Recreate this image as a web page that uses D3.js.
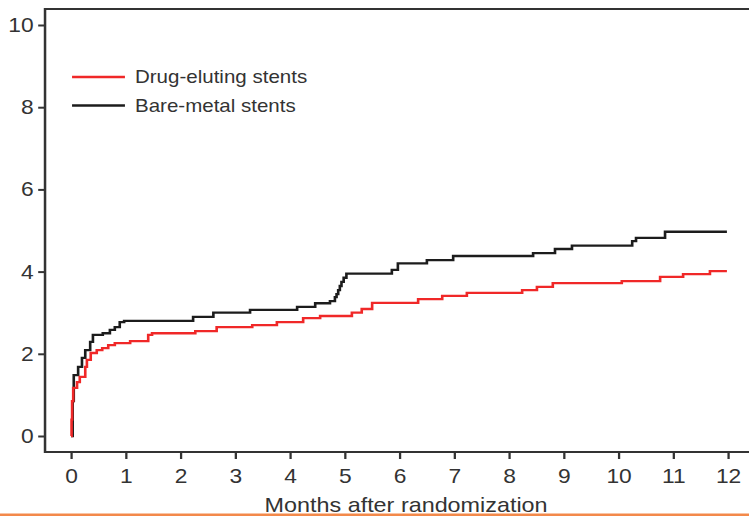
<!DOCTYPE html>
<html>
<head>
<meta charset="utf-8">
<script src="https://cdn.jsdelivr.net/npm/d3@7"></script>
<style>
  html, body { margin: 0; padding: 0; background: #fff; }
  svg { display: block; }
  text { font-family: "Liberation Sans", Arial, sans-serif; fill: #333; }
</style>
</head>
<body>
<div id="chart"></div>
<script>
// cumulative event rate (%), step curves
var bareTimes  = [0, 0.03, 0.05, 0.13, 0.2, 0.26, 0.35, 0.4, 0.58, 0.71, 0.8, 0.89, 0.97, 2.23, 2.6, 3.27, 4.13, 4.46, 4.73, 4.82, 4.85, 4.88, 4.91, 4.94, 4.98, 5.03, 5.86, 5.97, 6.5, 6.98, 8.44, 8.84, 9.15, 10.25, 10.32, 10.85, 11.98];
var bareValues = [0, 0.85, 1.48, 1.68, 1.9, 2.09, 2.29, 2.46, 2.5, 2.58, 2.65, 2.77, 2.8, 2.9, 3.0, 3.07, 3.14, 3.23, 3.28, 3.38, 3.45, 3.55, 3.65, 3.75, 3.85, 3.95, 4.04, 4.2, 4.28, 4.38, 4.45, 4.55, 4.63, 4.74, 4.82, 4.97, 4.97];

var drugTimes  = [0, 0.01, 0.02, 0.04, 0.11, 0.16, 0.26, 0.29, 0.36, 0.47, 0.57, 0.68, 0.8, 1.08, 1.41, 1.48, 2.27, 2.66, 3.31, 3.76, 4.24, 4.55, 5.13, 5.31, 5.5, 6.34, 6.78, 7.23, 8.24, 8.51, 8.8, 10.06, 10.76, 11.18, 11.67, 11.98];
var drugValues = [0, 0.4, 0.85, 1.17, 1.31, 1.44, 1.68, 1.85, 2.02, 2.09, 2.14, 2.21, 2.26, 2.31, 2.46, 2.5, 2.55, 2.65, 2.7, 2.77, 2.87, 2.92, 3.0, 3.09, 3.24, 3.33, 3.41, 3.48, 3.55, 3.63, 3.72, 3.77, 3.87, 3.94, 4.01, 4.01];

var xTicks = [0, 1, 2, 3, 4, 5, 6, 7, 8, 9, 10, 11, 12];
var yTicks = [0, 2, 4, 6, 8, 10];
var seriesNames = ["Drug-eluting stents", "Bare-metal stents"];
var seriesColors = ["#f02828", "#1c1c1c"];

var width = 749, height = 516;
var stretch = 1.14;            // the picture is a bit wider than tall, text included
var vw = width / stretch;

var svg = d3.select("#chart")
    .append("svg")
    .attr("width", width)
    .attr("height", height)
    .attr("viewBox", "0 0 " + vw + " " + height)
    .attr("preserveAspectRatio", "none");

var frame = { left: 39.5, top: 9, bottom: 452, right: vw };

var xScale = d3.scaleLinear().domain([0, 12]).range([62.3, 638.6]);
var yScale = d3.scaleLinear().domain([0, 10]).range([436, 25]);

var xAxis = d3.axisBottom(xScale).tickValues(xTicks).tickSize(7).tickSizeOuter(0).tickPadding(6);
var yAxis = d3.axisLeft(yScale).tickValues(yTicks).tickSize(6).tickSizeOuter(0).tickPadding(4);

var gx = svg.append("g")
    .attr("transform", "translate(0," + frame.bottom + ")")
    .call(xAxis);
var gy = svg.append("g")
    .attr("transform", "translate(" + frame.left + ",0)")
    .call(yAxis);

[gx, gy].forEach(function(g) {
    g.select(".domain").remove();
    g.selectAll(".tick line").attr("stroke", "#333").attr("stroke-width", 2);
    g.selectAll(".tick text").attr("fill", "#333").style("font-size", "20px");
});
gx.selectAll(".tick text").attr("dy", "0.9em");

// frame: left, bottom and top lines
svg.append("path")
    .attr("d", "M" + frame.right + "," + frame.top + "H" + frame.left + "V" + frame.bottom + "H" + frame.right)
    .attr("fill", "none")
    .attr("stroke", "#333")
    .attr("stroke-width", 2.2);

var line = d3.line()
    .curve(d3.curveStepAfter)
    .x(function(d) { return xScale(d[0]); })
    .y(function(d) { return yScale(d[1]); });

var bare = d3.zip(bareTimes, bareValues);
var drug = d3.zip(drugTimes, drugValues);

svg.append("path")
    .datum(bare)
    .attr("d", line)
    .attr("fill", "none")
    .attr("stroke", seriesColors[1])
    .attr("stroke-width", 2.3);

svg.append("path")
    .datum(drug)
    .attr("d", line)
    .attr("fill", "none")
    .attr("stroke", seriesColors[0])
    .attr("stroke-width", 2.3);

// legend
var legend = svg.append("g");
seriesNames.forEach(function(name, i) {
    var ly = 77 + i * 28.5;
    legend.append("line")
        .attr("x1", 63.2).attr("x2", 109.6)
        .attr("y1", ly).attr("y2", ly)
        .attr("stroke", seriesColors[i])
        .attr("stroke-width", 2.3);
    legend.append("text")
        .attr("x", 118.4)
        .attr("y", ly)
        .attr("dy", "0.35em")
        .style("font-size", "18px")
        .text(name);
});

svg.append("text")
    .attr("x", xScale(6.12))
    .attr("y", 512)
    .attr("text-anchor", "middle")
    .style("font-size", "20.5px")
    .text("Months after randomization");

// orange rule at the bottom edge
svg.append("rect")
    .attr("x", 0).attr("y", 513.5)
    .attr("width", vw).attr("height", 2.5)
    .attr("fill", "#f3894a");
</script>
</body>
</html>
